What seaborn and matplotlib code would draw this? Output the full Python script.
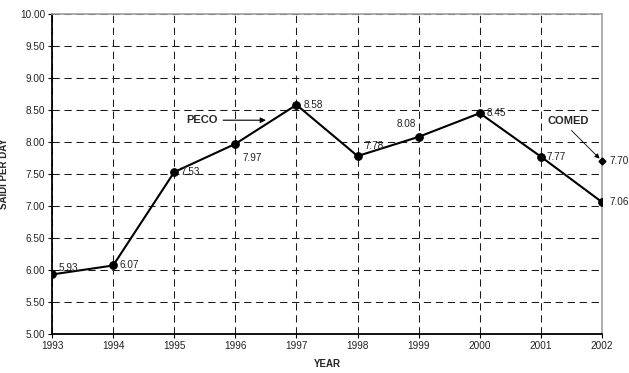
import matplotlib
matplotlib.use("Agg")
import matplotlib.pyplot as plt
import pandas as pd
import seaborn as sns

# dados
anos = [1993, 1994, 1995, 1996, 1997, 1998, 1999, 2000, 2001, 2002]
saidi_peco = [5.93, 6.07, 7.53, 7.97, 8.58, 7.78, 8.08, 8.45, 7.77, 7.06]
ano_comed = [2002]
saidi_comed = [7.70]
y_ticks = [5.0, 5.5, 6.0, 6.5, 7.0, 7.5, 8.0, 8.5, 9.0, 9.5, 10.0]

# deslocamento dos rótulos (pontos) e alinhamento para cada valor
offsets = [(4.5, 5), (4.5, 0), (4.5, 0), (5, -10), (5, 0), (5, 7), (-2, 9), (5, 0), (4, 0), (5.5, 0)]
alinh = ["left"] * 6 + ["right"] + ["left"] * 3

df = pd.DataFrame({"ano": anos, "saidi": saidi_peco})

sns.set_style("white")
plt.rcParams["font.family"] = ["Liberation Sans", "DejaVu Sans"]

fig = plt.figure(figsize=(6.29, 3.73), dpi=100)
ax = fig.add_axes([0.0827, 0.1046, 0.8744, 0.858])

sns.lineplot(data=df, x="ano", y="saidi", ax=ax, color="black", linewidth=1.5,
             marker="o", markersize=5.5, markeredgecolor="black", markerfacecolor="black",
             zorder=3)
ax.plot(ano_comed, saidi_comed, marker="D", markersize=3.5, color="black",
        linestyle="none", zorder=3, clip_on=False)

for (x, y), (dx, dy), ha in zip(zip(anos, saidi_peco), offsets, alinh):
    ax.annotate(f"{y:.2f}", (x, y), xytext=(dx, dy), textcoords="offset points",
                fontsize=7.2, va="center", ha=ha, color="#222222")
ax.annotate(f"{saidi_comed[0]:.2f}", (ano_comed[0], saidi_comed[0]), xytext=(5.5, 0),
            textcoords="offset points", fontsize=7.2, va="center", ha="left", color="#222222")

# setas com os nomes das empresas
ax.annotate("", xy=(1996.5, 8.34), xytext=(1995.8, 8.34),
            arrowprops=dict(arrowstyle="-|>", color="black", lw=0.8, mutation_scale=8,
                            shrinkA=0, shrinkB=0))
ax.text(1995.19, 8.34, "PECO", fontsize=8, fontweight="bold", va="center", ha="left")
ax.annotate("", xy=(2001.96, 7.74), xytext=(2001.5, 8.18),
            arrowprops=dict(arrowstyle="-|>", color="black", lw=0.6, mutation_scale=7,
                            shrinkA=0, shrinkB=0))
ax.text(2001.1, 8.33, "COMED", fontsize=8, fontweight="bold", va="center", ha="left")

ax.set_xlim(1993, 2002)
ax.set_ylim(5, 10)
ax.set_xticks(anos)
ax.set_xticklabels([str(a) for a in anos], fontsize=7.2, color="#222222")
ax.set_yticks(y_ticks)
ax.set_yticklabels([f"{v:.2f}" for v in y_ticks], fontsize=7.2, color="#222222")
ax.tick_params(axis="both", length=3, width=0.8, direction="out", color="black", pad=2)
ax.tick_params(axis="y", left=True)
ax.tick_params(axis="x", bottom=True)

ax.grid(True, color="#1a1a1a", linestyle=(0, (7, 4.5)), linewidth=0.75)
ax.set_axisbelow(True)

for lado in ["left", "bottom"]:
    ax.spines[lado].set_color("black")
    ax.spines[lado].set_linewidth(1.3)
for lado in ["top", "right"]:
    ax.spines[lado].set_color("#a0a0a0")
    ax.spines[lado].set_linewidth(1.2)

ax.set_xlabel("YEAR", fontsize=7, fontweight="bold")
ax.set_ylabel("SAIDI PER DAY", fontsize=7, fontweight="bold")
ax.yaxis.set_label_coords(-0.078, 0.5)
ax.xaxis.set_label_coords(0.5, -0.078)

fig.savefig("out.png", dpi=100)
